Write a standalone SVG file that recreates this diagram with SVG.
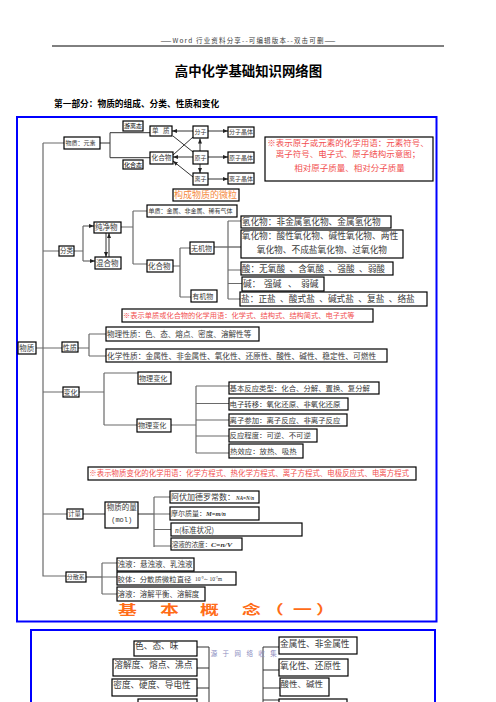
<svg xmlns="http://www.w3.org/2000/svg" width="496" height="702" viewBox="0 0 496 702">
<style>
.t{font-family:"Noto Sans CJK SC",sans-serif;fill:#3a3a3a}
.b{fill:#fff;stroke:#000;stroke-width:1.2}
.c{stroke:#6a6a6a;stroke-width:1.2;fill:none}
.k{stroke:#333;stroke-width:1;fill:none}
.r{font-family:"Noto Sans CJK SC",sans-serif;fill:#f25050}
.f{font-family:"Liberation Serif",serif;font-style:italic;font-weight:bold;fill:#333}
.blue{fill:none;stroke:#0000ff;stroke-width:2}
</style>
<defs>
<marker id="a" markerUnits="userSpaceOnUse" markerWidth="5" markerHeight="4" refX="5" refY="2" orient="auto"><path d="M0,0 L5,2 L0,4 z" fill="#222"/></marker>
</defs>
<rect width="496" height="702" fill="#fff"/>
<text class="t" x="248" y="43.3" font-size="6.5" text-anchor="middle" textLength="175">——Word 行业资料分享--可编辑版本--双击可删——</text>
<path d="M52,46 H444" stroke="#000" stroke-width="1"/>
<text class="t" x="248.5" y="75.8" font-size="13.4" font-weight="bold" text-anchor="middle" style="fill:#000">高中化学基础知识网络图</text>
<text class="t" x="54" y="107" font-size="8.7" font-weight="bold" style="fill:#000">第一部分：物质的组成、分类、性质和变化</text>
<rect class="blue" x="17" y="117" width="419.5" height="504.5"/>
<rect class="blue" x="31" y="630" width="404" height="100"/>

<g id="connectors">
<path class="c" d="M43,143 V576 H66 M43,143 H64 M36,348 H62 M43,251 H59 M43,392 H63 M43,514 H67"/>
<path class="k" d="M100,143 H110 M110,132.7 V157.7 M110,132.7 H150 M110,157.7 H150"/>
<path class="k" d="M193,131 H172" marker-end="url(#a)"/>
<path class="k" d="M193,157 H173" marker-end="url(#a)"/>
<path class="k" d="M193,137 L173,155 M193,152 L173,136"/>
<path class="k" d="M193,177 L173,161" marker-end="url(#a)"/>
<path class="k" d="M200,151 V138.5" marker-end="url(#a)"/>
<path class="k" d="M200,164 V173" marker-end="url(#a)"/>
<path class="k" d="M208,131 H228" marker-end="url(#a)"/>
<path class="k" d="M208,157 H228" marker-end="url(#a)"/>
<path class="k" d="M208,179 H228" marker-end="url(#a)"/>
<path class="c" d="M74,251 H83 M83,226 V261"/>
<path class="c" d="M83,226 H94" marker-end="url(#a)"/>
<path class="c" d="M83,261 H95" marker-end="url(#a)"/>
<path class="k" d="M106,233 V257" marker-end="url(#a)"/>
<path class="k" d="M109,257 V233" marker-end="url(#a)"/>
<path class="c" d="M121,227 H133 M133,211 V264 M133,211 H147 M133,264 H147"/>
<path class="c" d="M173,266 H180 M180,248 V297 M180,248 H190 M180,297 H191"/>
<path class="k" d="M214,247 H241"/>
<path class="c" d="M228,221 V299 M228,221 H241 M228,270 H241 M228,283.5 H242 M228,299 H240"/>
<path class="c" d="M78,348 H89 M89,334 V356 M89,334 H106 M89,356 H106"/>
<path class="c" d="M79,392 H104 M104,373 V425 M104,373 H138 M104,425 H137"/>
<path class="c" d="M171,425 H196 M196,386 V453 M196,386 H229 M196,403.5 H229 M196,420 H229 M196,436 H229 M196,453 H229"/>
<path class="k" d="M83,514 H105 M138,514 H154"/>
<path class="c" d="M154,497 V547 M154,497 H170 M154,514 H170 M154,529.5 H171 M154,546 H171"/>
<path class="k" d="M86,577 H102"/>
<path class="c" d="M102,563 V594 M102,563 H117 M102,577 H117 M102,594 H117"/>
<path class="k" d="M197,647 H209 M209,647 V702 M197,668 H209 M197,688 H209"/>
<path class="k" d="M263,647 V702 M263,647 H279 M263,670 H279 M263,688 H280 M263,700 H279"/>
</g>

<g id="n-yuansu"><rect class="b" x="64" y="137" width="36" height="12"/><text class="t" x="65.5" y="145.3" font-size="6">物质：元素</text></g>
<g id="n-youli"><rect class="b" x="123" y="121" width="20" height="10"/><text class="t" x="124" y="128.2" font-size="6" style="fill:#000">游离态</text></g>
<g id="n-huahetai"><rect class="b" x="123" y="160" width="20" height="9"/><text class="t" x="124" y="166.7" font-size="6" style="fill:#000">化合态</text></g>
<g id="n-danzhi"><rect class="b" x="150" y="126" width="22" height="10"/><text class="t" y="133.4" font-size="6.5"><tspan x="152">单</tspan><tspan x="163">质</tspan></text></g>
<g id="n-huahewu1"><rect class="b" x="150" y="152" width="23" height="12"/><text class="t" x="151.5" y="160.4" font-size="6.7">化合物</text></g>
<g id="n-fenzi"><rect class="b" x="193" y="126" width="15" height="12"/><text class="t" x="194.5" y="134.2" font-size="6">分子</text></g>
<g id="n-yuanzi"><rect class="b" x="193" y="151" width="15" height="13"/><text class="t" x="194.5" y="159.7" font-size="6">原子</text></g>
<g id="n-lizi"><rect class="b" x="193" y="173" width="15" height="12"/><text class="t" x="194.5" y="181.2" font-size="6">离子</text></g>
<g id="n-fzjt"><rect class="b" x="228" y="127" width="26" height="10"/><text class="t" x="229" y="134.2" font-size="6">分子晶体</text></g>
<g id="n-yzjt"><rect class="b" x="228" y="152" width="26" height="11"/><text class="t" x="229" y="159.7" font-size="6">原子晶体</text></g>
<g id="n-lzjt"><rect class="b" x="228" y="173" width="26" height="11"/><text class="t" x="229" y="180.7" font-size="6">离子晶体</text></g>
<g id="n-weili"><rect class="b" x="173" y="189" width="66" height="12"/><text class="t" x="174" y="198.3" font-size="9" style="fill:#f5883c">构成物质的微粒</text></g>
<g id="n-note1"><rect class="b" x="265" y="137" width="168" height="44" stroke-width="1.3"/>
<text class="r" x="348" y="145.8" font-size="8.5" text-anchor="middle">※表示原子或元素的化学用语：元素符号、</text>
<text class="r" x="348" y="157.3" font-size="8.5" text-anchor="middle">离子符号、电子式、原子结构示意图；</text>
<text class="r" x="349.5" y="170.9" font-size="8.5" text-anchor="middle">相对原子质量、相对分子质量</text></g>

<g id="n-wuzhi"><rect class="b" x="18" y="342" width="18" height="12"/><text class="t" x="19.3" y="350.7" font-size="7.5">物质</text></g>
<g id="n-fenlei"><rect class="b" x="59" y="246" width="15" height="10"/><text class="t" x="60" y="253.3" font-size="6.5">分类</text></g>
<g id="n-chunjing"><rect class="b" x="94" y="222" width="27" height="11"/><text class="t" x="95" y="230.2" font-size="7.5">纯净物</text></g>
<g id="n-hunhe"><rect class="b" x="95" y="257" width="26" height="12"/><text class="t" x="96" y="265.7" font-size="7.5">混合物</text></g>
<g id="n-danzhi2"><rect class="b" x="147" y="205" width="90" height="12"/><text class="t" x="148.5" y="213.2" font-size="6">单质：金属、非金属、稀有气体</text></g>
<g id="n-huahewu2"><rect class="b" x="147" y="260" width="26" height="12"/><text class="t" x="148" y="268.7" font-size="7.5">化合物</text></g>
<g id="n-wuji"><rect class="b" x="190" y="242" width="24" height="12"/><text class="t" x="191" y="250.5" font-size="7">无机物</text></g>
<g id="n-youji"><rect class="b" x="191" y="290" width="26" height="12"/><text class="t" x="192.3" y="298.5" font-size="7">有机物</text></g>
<g id="n-qing"><rect class="b" x="241" y="216" width="150" height="12"/><text class="t" x="241.7" y="225.1" font-size="8.7">氢化物：非金属氢化物、金属氢化物</text></g>
<g id="n-yang"><rect class="b" x="241" y="230" width="162" height="28"/><text class="t" x="241.7" y="239" font-size="8.7">氧化物：酸性氧化物、碱性氧化物、两性</text><text class="t" x="256.7" y="252.8" font-size="8.7">氧化物、不成盐氧化物、过氧化物</text></g>
<g id="n-suan"><rect class="b" x="241" y="262" width="152" height="13"/><text class="t" x="241.7" y="271.6" font-size="8.7">酸：无氧酸&#8194;、含氧酸&#8194;、强酸&#8194;、弱酸</text></g>
<g id="n-jian"><rect class="b" x="242" y="277" width="82" height="14" stroke-width="1.5"/><text class="t" y="287.1" font-size="8.7"><tspan x="243">碱：</tspan><tspan x="264">强碱</tspan><tspan x="288">、</tspan><tspan x="301">弱碱</tspan></text></g>
<g id="n-yan"><rect class="b" x="240" y="292" width="187" height="14"/><text class="t" x="241" y="302.1" font-size="8.7">盐：正盐&#8194;、酸式盐&#8194;、碱式盐&#8194;、复盐&#8194;、络盐</text></g>
<g id="n-note2"><rect class="b" x="122" y="309" width="251" height="13"/><text class="r" x="123" y="318.1" font-size="7.24">※表示单质或化合物的化学用语：化学式、结构式、结构简式、电子式等</text></g>

<g id="n-xingzhi"><rect class="b" x="62" y="342" width="16" height="10"/><text class="t" x="62.7" y="349.5" font-size="7">性质</text></g>
<g id="n-wuli"><rect class="b" x="106" y="327" width="153" height="14"/><text class="t" x="107" y="336.7" font-size="7.6">物理性质：色、态、熔点、密度、溶解性等</text></g>
<g id="n-huaxue"><rect class="b" x="106" y="349" width="281" height="13"/><text class="t" x="107" y="358.5" font-size="7.7">化学性质：金属性、非金属性、氧化性、还原性、酸性、碱性、稳定性、可燃性</text></g>

<g id="n-bianhua"><rect class="b" x="63" y="387" width="16" height="10"/><text class="t" x="63.5" y="394.5" font-size="7">变化</text></g>
<g id="n-wlbh1"><rect class="b" x="138" y="372" width="33" height="12"/><text class="t" x="139" y="380.5" font-size="7.1">物理变化</text></g>
<g id="n-wlbh2"><rect class="b" x="137" y="419" width="34" height="13"/><text class="t" x="138" y="428" font-size="7.1">物理变化</text></g>
<g id="n-jiben"><rect class="b" x="229" y="382" width="150" height="12"/><text class="t" x="229.5" y="390.7" font-size="7.4">基本反应类型：化合、分解、置换、复分解</text></g>
<g id="n-dianzi"><rect class="b" x="229" y="398" width="119" height="12"/><text class="t" x="229.5" y="406.7" font-size="7.4">电子转移：氧化还原、非氧化还原</text></g>
<g id="n-lizican"><rect class="b" x="229" y="414" width="118" height="12"/><text class="t" x="229.5" y="422.7" font-size="7.4">离子参加：离子反应、非离子反应</text></g>
<g id="n-chengdu"><rect class="b" x="229" y="429" width="88" height="13"/><text class="t" x="229.5" y="438.2" font-size="7.4">反应程度：可逆、不可逆</text></g>
<g id="n-rexiao"><rect class="b" x="229" y="444" width="74" height="14"/><text class="t" x="230" y="453.7" font-size="7.4">热效应：放热、吸热</text></g>
<g id="n-note3"><rect class="b" x="88" y="467" width="328" height="13"/><text class="r" x="89.3" y="476.4" font-size="7.45">※表示物质变化的化学用语：化学方程式、热化学方程式、离子方程式、电极反应式、电离方程式</text></g>

<g id="n-jiliang"><rect class="b" x="67" y="509" width="16" height="10"/><text class="t" x="68.3" y="516.3" font-size="6.3">计量</text></g>
<g id="n-wzdl"><rect class="b" x="105" y="502" width="33" height="26"/><text class="t" x="106.7" y="510" font-size="7.5">物质的量</text><text x="121.7" y="522" font-size="7" text-anchor="middle" style="font-family:'Liberation Mono',monospace;fill:#333">(mol)</text></g>
<g id="n-afjd"><rect class="b" x="170" y="491" width="89" height="12"/><text class="t" x="171" y="500" font-size="8">阿伏加德罗常数：</text><text class="f" x="236" y="500" font-size="6.5" textLength="18" lengthAdjust="spacingAndGlyphs">NA=N/n</text></g>
<g id="n-moer"><rect class="b" x="170" y="507" width="89" height="13"/><text class="t" x="171" y="516.2" font-size="7">摩尔质量：</text><text class="f" x="206" y="516.2" font-size="6.5" textLength="20" lengthAdjust="spacingAndGlyphs">M=m/n</text></g>
<g id="n-biaozhun"><rect class="b" x="171" y="523" width="131" height="13"/><text x="175" y="532.7" font-size="7.5" class="f" style="font-weight:normal">n</text><text class="t" x="179" y="532.7" font-size="7.5">(标准状况)</text></g>
<g id="n-nongdu"><rect class="b" x="171" y="538" width="71" height="12"/><text class="t" x="171.7" y="546.7" font-size="6.6">溶液的浓度：</text><text class="f" x="211" y="546.7" font-size="6.5" textLength="21" lengthAdjust="spacingAndGlyphs">C=n/V</text></g>

<g id="n-fensan"><rect class="b" x="66" y="572" width="20" height="10"/><text class="t" x="66.7" y="579.2" font-size="6.1">分散系</text></g>
<g id="n-zhuo"><rect class="b" x="117" y="558" width="77" height="13"/><text class="t" x="117.5" y="567.4" font-size="7.5">浊液：悬浊液、乳浊液</text></g>
<g id="n-jiao"><rect class="b" x="117" y="572" width="119" height="13"/><text class="t" x="117.5" y="581.7" font-size="7.4">胶体：分散质微粒直径</text><text x="195" y="581.2" font-size="5.5" style="font-family:'Liberation Serif',serif;fill:#333">10<tspan font-size="3.5" dy="-2.5">-9</tspan><tspan dy="2.5">～10</tspan><tspan font-size="3.5" dy="-2.5">-7</tspan><tspan dy="2.5">m</tspan></text></g>
<g id="n-rongye"><rect class="b" x="117" y="587" width="88" height="14"/><text class="t" x="117.5" y="596.7" font-size="7.45">溶液：溶解平衡、溶解度</text></g>

<text font-size="13" font-weight="bold" transform="translate(0,614) scale(1.45,1)" style="font-family:'Noto Sans CJK SC',sans-serif;fill:#ff6c17"><tspan x="81.4">基</tspan><tspan x="110.3">本</tspan><tspan x="137.9">概</tspan><tspan x="166.9">念</tspan><tspan x="182.8">（</tspan><tspan x="202.1">一</tspan><tspan x="217.9">）</tspan></text>

<g id="n-se"><rect class="b" x="134" y="641" width="63" height="15"/><text class="t" x="135" y="649.1" font-size="8.7">色、态、味</text></g>
<g id="n-rongjie"><rect class="b" x="113" y="659" width="84" height="17"/><text class="t" x="114.3" y="668.1" font-size="8.7">溶解度、熔点、沸点</text></g>
<g id="n-midu"><rect class="b" x="112" y="679" width="85" height="17"/><text class="t" x="113.3" y="688.4" font-size="8.6">密度、硬度、导电性</text></g>
<g id="n-left4"><rect class="b" x="138" y="699" width="59" height="17"/></g>
<text x="210.7" y="656.3" font-size="6.5" textLength="66" style="font-family:'Noto Sans CJK SC',sans-serif;fill:#8c8cc0">源 于 网 络 收 集</text>
<g id="n-jinshu"><rect class="b" x="279" y="637" width="78" height="17"/><text class="t" x="280" y="647.1" font-size="8.7">金属性、非金属性</text></g>
<g id="n-yanghua"><rect class="b" x="279" y="659" width="69" height="17"/><text class="t" x="280" y="669.1" font-size="8.7">氧化性、还原性</text></g>
<g id="n-suanjian"><rect class="b" x="280" y="678" width="49" height="18"/><text class="t" x="280.5" y="687.4" font-size="8.5">酸性、碱性</text></g>
<g id="n-right4"><rect class="b" x="279" y="699" width="68" height="17"/></g>
</svg>
